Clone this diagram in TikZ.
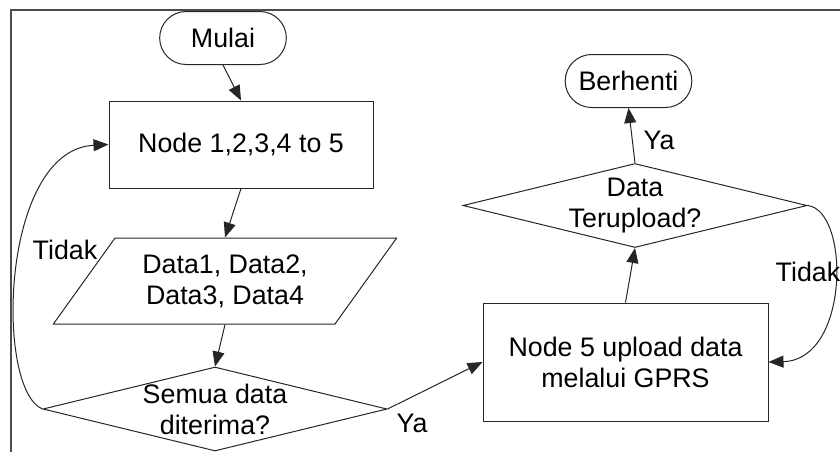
\documentclass[tikz,border=0pt]{standalone}
\usepackage{fontspec}
\setmainfont{Liberation Sans}
\usetikzlibrary{shapes.geometric,shapes.misc,arrows.meta}

\begin{document}
\begin{tikzpicture}[x=0.5pt,y=-0.5pt,
    font=\fontsize{13.4}{15.5}\selectfont,
    every node/.style={align=center},
    box/.style={draw=black!85,line width=0.5pt},
    term/.style={box,rounded rectangle,minimum width=70pt,minimum height=26.5pt},
    ask/.style={box,diamond,inner sep=0pt,minimum width=172pt,minimum height=42pt},
    arr/.style={draw=black!85,line width=0.5pt,-{Triangle[length=7.5pt,width=6pt]}}]
    \useasboundingbox (0,0) rectangle (840,451);
    \draw[gray!60!black,line width=1pt] (11,10) rectangle (860,470);

    \node[term] (mulai) at (223,38) {Mulai};
    \node[box,minimum width=132pt,minimum height=43.5pt] (node1) at (241,144.5) {Node 1,2,3,4 to 5};
    \node[box,trapezium,trapezium left angle=53,trapezium right angle=127,
          trapezium stretches=true,minimum width=172pt,minimum height=43pt] (data) at (225,281)
          {Data1, Data2,\\Data3, Data4};
    \node[ask] (cek1) at (215,409) {};
    \node (t1) at (215,409) {Semua data\\diterima?};
    \node[box,minimum width=142.5pt,minimum height=59pt] (upload) at (625.5,362)
          {Node 5 upload data\\melalui GPRS};
    \node[ask] (cek2) at (635,205.5) {};
    \node (t2) at (635,205.5) {Data\\Terupload?};
    \node[term] (henti) at (628.5,81) {Berhenti};

    \draw[arr] (mulai.south) -- (node1.north);
    \draw[arr] (node1.south) -- (data.north);
    \draw[arr] (data.south) -- (cek1.north);
    \draw[arr] (cek1.east) -- (upload.west);
    \draw[arr] (upload.north) -- (cek2.south);
    \draw[arr] (cek2.north) -- (henti.south);
    \draw[arr] (cek1.west) .. controls (-5,390) and (0,150) .. (node1.west);
    \draw[arr] (cek2.east) .. controls (850,210) and (850,360) .. (upload.east);

    \node (tidak1) at (65,250) {Tidak};
    \node (ya1) at (412,423) {Ya};
    \node (ya2) at (659,140) {Ya};
    \node (tidak2) at (808,272) {Tidak};
\end{tikzpicture}
\end{document}
